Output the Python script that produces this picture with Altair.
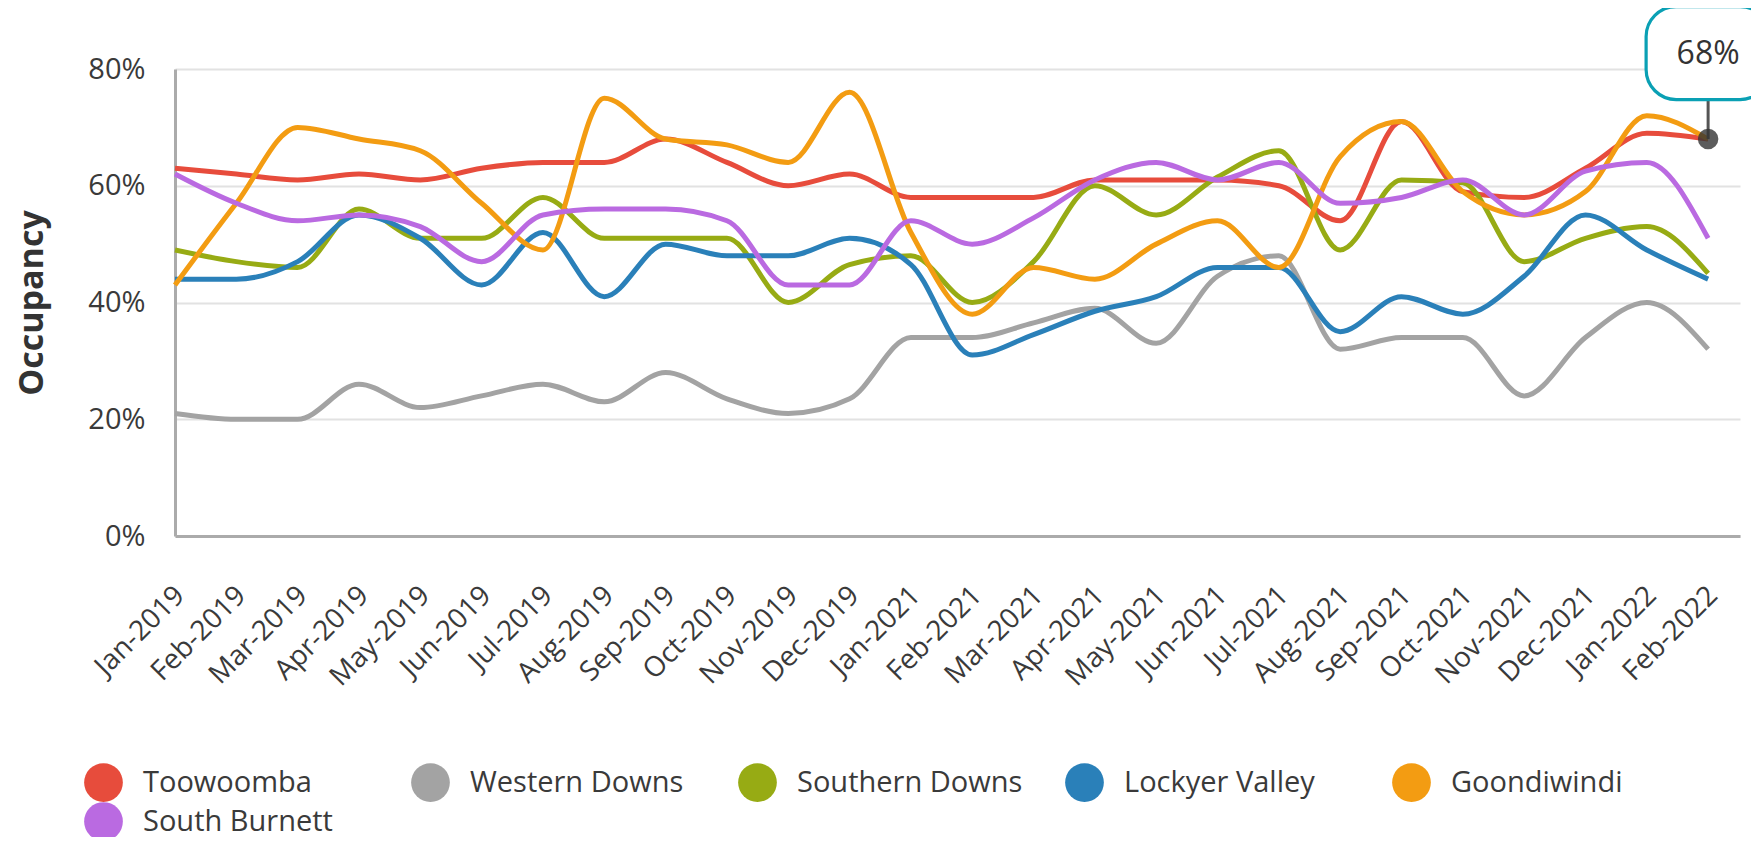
import altair as alt
import pandas as pd

months = ["Jan-2019", "Feb-2019", "Mar-2019", "Apr-2019", "May-2019", "Jun-2019",
          "Jul-2019", "Aug-2019", "Sep-2019", "Oct-2019", "Nov-2019", "Dec-2019",
          "Jan-2021", "Feb-2021", "Mar-2021", "Apr-2021", "May-2021", "Jun-2021",
          "Jul-2021", "Aug-2021", "Sep-2021", "Oct-2021", "Nov-2021", "Dec-2021",
          "Jan-2022", "Feb-2022"]

series_names = ["Toowoomba", "Western Downs", "Southern Downs",
                "Lockyer Valley", "Goondiwindi", "South Burnett"]

toowoomba = [63, 62, 61, 62, 61, 63, 64, 64, 68, 64, 60, 62, 58, 58, 58, 61, 61, 61,
             60, 54, 71, 59, 58, 63, 69, 68]
western_downs = [21, 20, 20, 26, 22, 24, 26, 23, 28, 23.5, 21, 23.5, 34, 34, 36.5, 39, 33,
                 44.5, 48, 32, 34, 34, 24, 34, 40, 32]
southern_downs = [49, 47, 46, 56, 51, 51, 58, 51, 51, 51, 40, 46.5, 48, 40, 47, 60, 55,
                  61.5, 66, 49, 61, 60.5, 47, 51, 53, 45]
lockyer_valley = [44, 44, 47, 55, 51, 43, 52, 41, 50, 48, 48, 51, 46.5, 31, 34.5, 38.5, 41,
                  46, 46, 35, 41, 38, 44.5, 55, 49, 44]
goondiwindi = [43, 57, 70, 68, 66, 57, 49, 75, 68, 67, 64, 76, 52, 38, 46, 44, 50, 54,
               46, 65, 71, 59, 55, 59, 72, 68]
south_burnett = [62, 57, 54, 55, 53, 47, 55, 56, 56, 54, 43, 43, 54, 50, 54.5, 61, 64, 61,
                 64, 57, 58, 61, 55, 62.5, 64, 51]

series_colors = ["#E74C3C", "#A3A3A3", "#97AB14", "#2A80B9", "#F39C12", "#BA6AE1"]

y_ticks = [0, 20, 40, 60, 80]

callout_month = "Feb-2022"
callout_value = 68

all_series = [toowoomba, western_downs, southern_downs, lockyer_valley, goondiwindi, south_burnett]
rows = []
for name, vals in zip(series_names, all_series):
    for m, v in zip(months, vals):
        rows.append({"month": m, "region": name, "occ": v})
df = pd.DataFrame(rows)

callout_df = pd.DataFrame({"month": [callout_month], "occ": [callout_value],
                           "label": [f"{callout_value}%"]})

FONT = "Open Sans"
TXT = "#3a3a3a"

x_scale = alt.Scale(type="point", domain=months, padding=0.26, align=0)
y_scale = alt.Scale(domain=[0, 80], nice=False)

x_enc = alt.X("month:N", scale=x_scale, sort=months,
              axis=alt.Axis(title=None, labelAngle=-45, labelFont=FONT, labelFontSize=28,
                            labelColor=TXT, labelPadding=45, labelOffset=-5,
                            ticks=False, tickSize=0,
                            grid=False, domainColor="#ababab", domainWidth=3,
                            labelOverlap=False))
y_enc = alt.Y("occ:Q", scale=y_scale,
              axis=alt.Axis(title="Occupancy", values=y_ticks,
                            labelExpr="datum.value + '%'",
                            titleFont=FONT, titleFontSize=34, titleFontWeight="bold",
                            titleColor="#333333", titlePadding=38,
                            labelFont=FONT, labelFontSize=29, labelColor=TXT,
                            labelPadding=30, ticks=False, tickSize=0,
                            domainColor="#ababab", domainWidth=3,
                            gridColor="#e2e2e2", gridWidth=2))


def make_legend():
    return alt.Legend(title=None, orient="none", legendX=-91, legendY=694,
                      direction="horizontal", columns=5, symbolType="circle",
                      symbolSize=1500, symbolOpacity=1, symbolStrokeWidth=0,
                      labelFont=FONT, labelFontSize=29, labelColor=TXT,
                      labelOffset=20, columnPadding=42, rowPadding=-4,
                      gridAlign="all", labelLimit=500)


color_scale = alt.Scale(domain=series_names, range=series_colors)

lines = alt.Chart(df).mark_line(interpolate="monotone", strokeWidth=5).encode(
    x=x_enc, y=y_enc,
    stroke=alt.Stroke("region:N", scale=color_scale, legend=make_legend()),
    detail="region:N",
)

legend_layer = alt.Chart(df).mark_circle(size=1500, opacity=0).encode(
    x=alt.X("month:N", scale=x_scale, sort=months),
    y=alt.Y("occ:Q", scale=y_scale),
    fill=alt.Fill("region:N", scale=color_scale, legend=make_legend()),
)

xc = alt.X("month:N", scale=x_scale, sort=months)
yc = alt.Y("occ:Q", scale=y_scale)

rule = alt.Chart(callout_df).mark_rule(color="#555555", strokeWidth=3, y2Offset=-40).encode(
    x=xc, y=yc, y2=alt.Y2("occ"))

dot = alt.Chart(callout_df).mark_circle(size=420, color="#333333", opacity=0.8).encode(x=xc, y=yc)

PILL = ("M -0.516 -0.75 L 0.516 -0.75 C 0.783 -0.75 1 -0.533 1 -0.266 L 1 0.266 "
        "C 1 0.533 0.783 0.75 0.516 0.75 L -0.516 0.75 C -0.783 0.75 -1 0.533 -1 0.266 "
        "L -1 -0.266 C -1 -0.533 -0.783 -0.75 -0.516 -0.75 Z")

box = alt.Chart(callout_df).mark_point(shape=PILL, size=15376, filled=True, fill="white",
                                       stroke="#0AA0B4", strokeWidth=3.2, opacity=1,
                                       yOffset=-86).encode(x=xc, y=yc)

label = alt.Chart(callout_df).mark_text(font=FONT, fontSize=32, color="#333333",
                                        yOffset=-85, baseline="middle").encode(
    x=xc, y=yc, text="label:N")

chart = alt.layer(lines, legend_layer, rule, dot, box, label).properties(
    width=1565, height=467,
    padding={"left": 167, "top": 61, "right": 11, "bottom": 301},
    autosize=alt.AutoSizeParams(type="none"),
).configure_view(stroke=None)

chart.save("out.html", embed_options={"renderer": "svg", "actions": False})
